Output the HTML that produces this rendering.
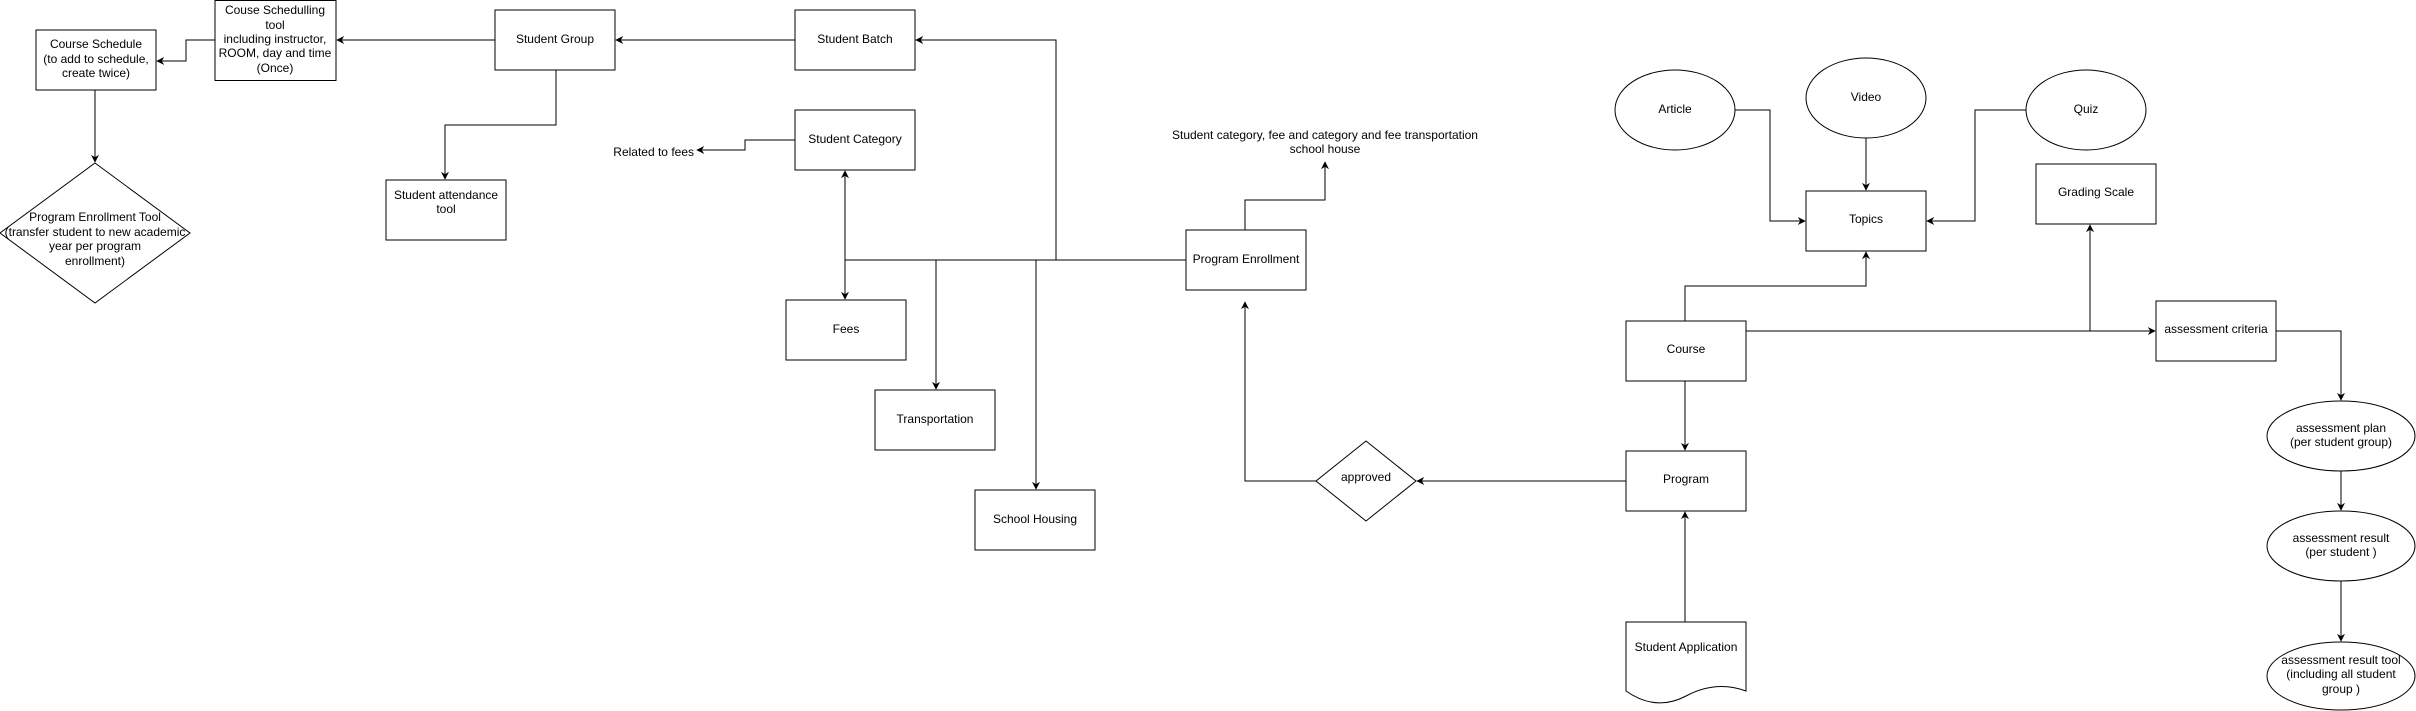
<!DOCTYPE html>
<html><head><meta charset="utf-8"><style>
html,body{margin:0;padding:0;background:#fff;}
svg{display:block;}
text{font-family:"Liberation Sans",sans-serif;font-size:12px;fill:#000;text-anchor:middle;dominant-baseline:central;}
</style></head><body>
<svg width="2416" height="711" viewBox="0 0 2416 711" xmlns="http://www.w3.org/2000/svg">
<defs>
<marker id="a" viewBox="0 0 10 10" refX="9" refY="5" markerWidth="8" markerHeight="8" orient="auto-start-reverse" markerUnits="userSpaceOnUse">
<path d="M0,0 L10,5 L0,10 L3,5 Z" fill="#000"/>
</marker>
</defs>
<g fill="#fff" stroke="#000" stroke-width="1">
<rect x="36" y="30" width="120" height="60"/>
<rect x="215" y="0.5" width="121" height="80"/>
<rect x="495" y="10" width="120" height="60"/>
<rect x="386" y="180" width="120" height="60"/>
<polygon points="95,163 190,233 95,303 0,233"/>
<rect x="795" y="10" width="120" height="60"/>
<rect x="795" y="110" width="120" height="60"/>
<rect x="786" y="300" width="120" height="60"/>
<rect x="875" y="390" width="120" height="60"/>
<rect x="975" y="490" width="120" height="60"/>
<rect x="1186" y="230" width="120" height="60"/>
<polygon points="1366,441 1416,481 1366,521 1316,481"/>
<ellipse cx="1675" cy="110" rx="60" ry="40"/>
<ellipse cx="1866" cy="98" rx="60" ry="40"/>
<ellipse cx="2086" cy="110" rx="60" ry="40"/>
<rect x="1806" y="191" width="120" height="60"/>
<rect x="2036" y="164" width="120" height="60"/>
<rect x="1626" y="321" width="120" height="60"/>
<rect x="2156" y="301" width="120" height="60"/>
<rect x="1626" y="451" width="120" height="60"/>
<path d="M1626,622 H1746 V691 Q1716,680 1686,696 Q1656,712 1626,691 Z"/>
<ellipse cx="2341" cy="436" rx="74" ry="35"/>
<ellipse cx="2341" cy="546" rx="74" ry="35"/>
<ellipse cx="2341" cy="676" rx="74" ry="34"/>
</g>
<g fill="none" stroke="#000" stroke-width="1">
<path d="M495,40 H337" marker-end="url(#a)"/>
<path d="M215,40 H186 V61 H157" marker-end="url(#a)"/>
<path d="M95,90 V162" marker-end="url(#a)"/>
<path d="M556,70 V125 H445 V179" marker-end="url(#a)"/>
<path d="M795,40 H616" marker-end="url(#a)"/>
<path d="M795,140 H745 V150 H697" marker-end="url(#a)"/>
<path d="M1056,260 V40 H916" marker-end="url(#a)"/>
<path d="M845,171 V299" marker-start="url(#a)" marker-end="url(#a)"/>
<path d="M1186,260 H845"/>
<path d="M936,260 V389" marker-end="url(#a)"/>
<path d="M1036,260 V489" marker-end="url(#a)"/>
<path d="M1245,230 V200 H1325 V162" marker-end="url(#a)"/>
<path d="M1316,481 H1245 V302" marker-end="url(#a)"/>
<path d="M1626,481 H1417" marker-end="url(#a)"/>
<path d="M1735,110 H1770 V221 H1805" marker-end="url(#a)"/>
<path d="M1866,138 V190" marker-end="url(#a)"/>
<path d="M2026,110 H1975 V221 H1927" marker-end="url(#a)"/>
<path d="M1685,321 V286 H1866 V252" marker-end="url(#a)"/>
<path d="M1746,331 H2155" marker-end="url(#a)"/>
<path d="M2090,331 V225" marker-end="url(#a)"/>
<path d="M1685,381 V450" marker-end="url(#a)"/>
<path d="M1685,622 V512" marker-end="url(#a)"/>
<path d="M2276,331 H2341 V400" marker-end="url(#a)"/>
<path d="M2341,471 V510" marker-end="url(#a)"/>
<path d="M2341,581 V641" marker-end="url(#a)"/>
</g>
<text x="96" y="44">Course Schedule</text>
<text x="96" y="59">(to add to schedule,</text>
<text x="96" y="73">create twice)</text>
<text x="275" y="10">Couse Schedulling</text>
<text x="275" y="25">tool</text>
<text x="275" y="39">including instructor,</text>
<text x="275" y="53">ROOM, day and time</text>
<text x="275" y="68">(Once)</text>
<text x="555" y="39">Student Group</text>
<text x="446" y="195">Student attendance</text>
<text x="446" y="209">tool</text>
<text x="95" y="217">Program Enrollment Tool</text>
<text x="95" y="232">(transfer student to new academic</text>
<text x="95" y="246">year per program</text>
<text x="95" y="261">enrollment)</text>
<text x="694" y="152" style="text-anchor:end">Related to fees</text>
<text x="855" y="39">Student Batch</text>
<text x="855" y="139">Student Category</text>
<text x="846" y="329">Fees</text>
<text x="935" y="419">Transportation</text>
<text x="1035" y="519">School Housing</text>
<text x="1246" y="259">Program Enrollment</text>
<text x="1325" y="135">Student category, fee and category and fee transportation</text>
<text x="1325" y="149">school house</text>
<text x="1366" y="477">approved</text>
<text x="1675" y="109">Article</text>
<text x="1866" y="97">Video</text>
<text x="2086" y="109">Quiz</text>
<text x="1866" y="219">Topics</text>
<text x="2096" y="192">Grading Scale</text>
<text x="1686" y="349">Course</text>
<text x="2216" y="329">assessment criteria</text>
<text x="1686" y="479">Program</text>
<text x="1686" y="647">Student Application</text>
<text x="2341" y="428">assessment plan</text>
<text x="2341" y="442">(per student group)</text>
<text x="2341" y="538">assessment result</text>
<text x="2341" y="552">(per student )</text>
<text x="2341" y="660">assessment result tool</text>
<text x="2341" y="674">(including all student</text>
<text x="2341" y="689">group )</text>
</svg>
</body></html>
